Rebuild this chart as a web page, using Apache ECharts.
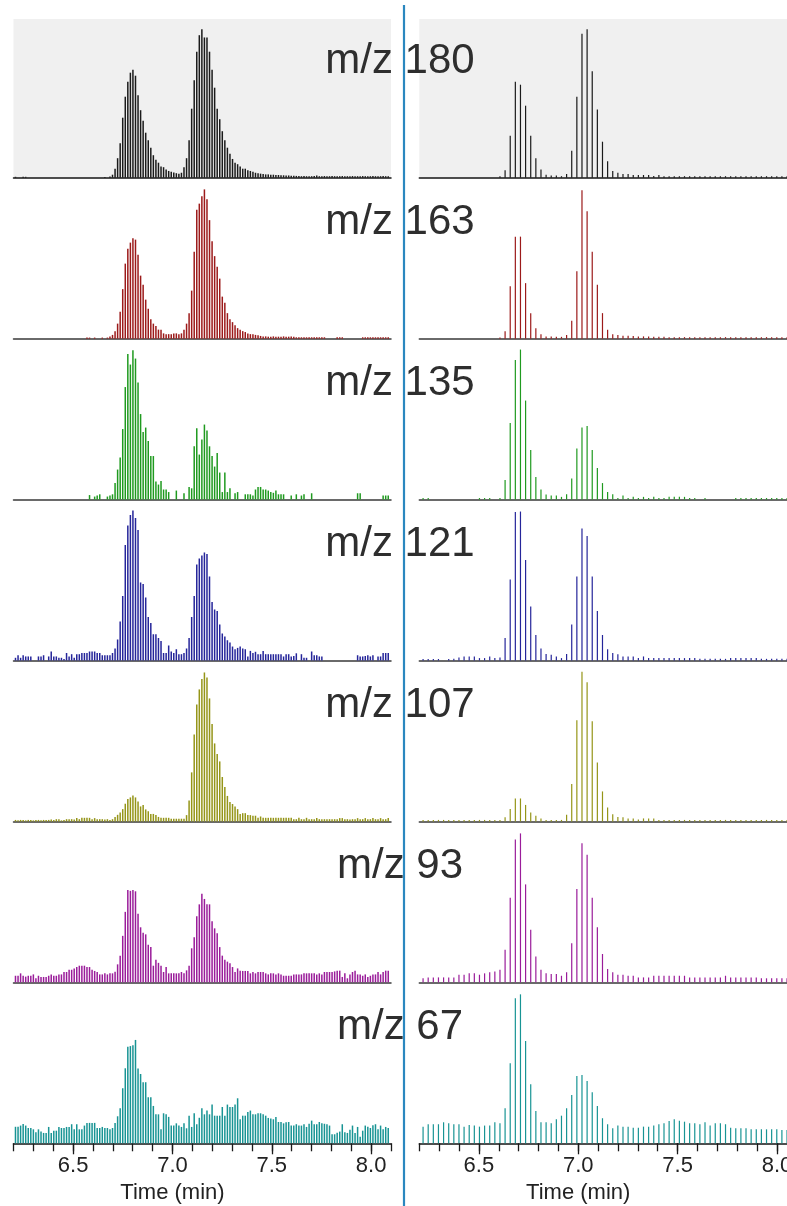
<!DOCTYPE html>
<html>
<head>
<meta charset="utf-8">
<script src="https://cdn.jsdelivr.net/npm/echarts@6/dist/echarts.min.js"></script>
<style>
  html, body { margin: 0; padding: 0; background: #ffffff; }
  #chart { width: 787px; height: 1206px; }
</style>
</head>
<body>
<div id="chart"></div>
<script>
// Extracted ion chromatograms, two runs side by side (left: fast scan, right: slow scan)
const IONS = ['180', '163', '135', '121', '107', '93', '67'];
const TIME_TICKS = [6.5, 7.0, 7.5, 8.0];

// scan timing (min)
const LEFT_T0 = 6.210, LEFT_DT = 0.01285;
const RIGHT_T0 = 6.219, RIGHT_DT = 0.0258;

// relative intensities, left run
const left180 = [
  0.6, 0, 0, 0.6, 0.6, 0, 0, 0, 0, 0,
  0, 0, 0, 0, 0, 0, 0, 0, 0, 0,
  0, 0, 0, 0, 0, 0, 0, 0, 0, 0,
  0, 0, 0, 0, 0, 0.5, 0, 0.8, 2, 6,
  13, 23, 40, 54, 64, 70, 72, 68, 55, 45,
  38, 30, 25, 20, 15, 12, 10, 7.5, 7, 5.5,
  4.5, 4, 3.5, 3, 2.7, 3.3, 7, 13, 25, 46,
  65, 84, 95, 99, 93.5, 93.5, 84, 72, 60, 46,
  39, 31, 25, 20, 16, 12.5, 10, 9, 7.5, 6,
  6, 5, 4.5, 4, 3.3, 3, 2.7, 2.4, 2.2, 2.2,
  2, 2, 1.8, 1.8, 1.6, 1.6, 1.5, 1.5, 1.3, 1.3,
  1.2, 1.2, 1, 1.1, 1, 1, 1, 1.1, 1.5, 1,
  1, 1.1, 1, 1, 1.1, 1, 1, 1, 1.1, 1,
  1, 1, 1.1, 1, 1, 1, 1.1, 1, 1, 1,
  1.1, 1, 1, 1, 1.1, 1, 1
];
const left163 = [
  0, 0, 0, 0, 0, 0, 0, 0, 0, 0,
  0, 0, 0, 0, 0, 0, 0, 0, 0, 0,
  0, 0, 0, 0, 0, 0, 0, 0, 0.7, 0.7,
  0, 0.7, 0, 0, 0.7, 0, 0.7, 1.5, 2.5, 5,
  10, 18, 33, 50, 60, 64, 67, 66, 56, 42,
  36, 26, 20, 13, 10, 8.4, 6, 6, 3.5, 3,
  3, 3, 3.5, 3.5, 3, 3.5, 6, 10, 17, 32,
  58, 86, 90, 95, 99.5, 93, 79, 65, 55, 48,
  40, 28, 24, 17, 13, 11, 9, 7, 6, 5,
  4.4, 3.5, 3, 3, 2.5, 2.2, 1.8, 1.5, 1.5, 1.3,
  1.3, 1.5, 1.3, 1.3, 1.3, 1.5, 1.3, 1.3, 1.5, 1.3,
  0.9, 0.9, 0.9, 0.9, 0.9, 0.9, 0.9, 0.9, 0.9, 0.9,
  0.9, 0.9, 0, 0, 0, 0, 0.9, 0.9, 0.9, 0,
  0, 0, 0, 0, 0, 0, 0.9, 0.9, 0.9, 0.9,
  0.9, 0.9, 0.9, 0.9, 0.9, 0.9, 0.9
];
const left135 = [
  0, 0, 0, 0, 0, 0, 0, 0, 0, 0,
  0, 0, 0, 0, 0, 0, 0, 0, 0, 0,
  0, 0, 0, 0, 0, 0, 0, 0, 0, 3,
  0, 2, 2.7, 3.5, 0, 0, 2, 2.7, 3.5, 11,
  20, 28, 47, 75, 97, 90, 99.5, 94, 78, 57,
  45, 48, 39, 29, 29, 12, 10, 12.4, 6.7, 6.7,
  5, 0, 0, 6, 0, 0, 4.2, 0, 8.4, 7.5,
  35.5, 47.5, 30, 40, 50, 46, 35.5, 29, 22, 31,
  18, 5, 18, 5, 7.5, 0, 4.2, 5, 0, 0,
  3.5, 3.5, 3.5, 2.7, 6.7, 8.4, 8.4, 6.7, 6.7, 6,
  5, 4.5, 6, 3.5, 3.5, 3.5, 0, 0, 2.7, 0,
  3.5, 0, 2.7, 3.5, 0, 0, 4.2, 0, 0, 0,
  0, 0, 0, 0, 0, 0, 0, 0, 0, 0,
  0, 0, 0, 0, 4.2, 4.2, 0, 0, 0, 0,
  0, 0, 0, 0, 2.7, 2.7, 2.7
];
const left121 = [
  1.8, 3.5, 1.8, 3.5, 2.7, 2.7, 2.7, 0, 0, 2.7,
  2.7, 3.5, 0, 2.7, 6, 2.7, 2.7, 1.8, 1.8, 1,
  5, 2.7, 4.2, 1.8, 4.2, 4.2, 5, 5, 5, 6,
  6, 6, 5, 5, 3.5, 3.5, 3.5, 3.5, 5, 8,
  14, 26, 43, 77, 90, 97, 100, 95, 87, 52,
  51, 42, 29, 25, 17.5, 17.5, 15, 13, 5, 5,
  10, 6, 5, 7.5, 4.2, 4.2, 5, 8, 15, 29,
  43, 64, 68, 70, 72, 71, 56, 39, 34, 33,
  24, 18, 16, 13.5, 12, 9.3, 7.5, 8.4, 9.3, 8,
  7.5, 2.7, 6.4, 5, 5.8, 4.2, 4.2, 6.4, 4.2, 4.2,
  4.2, 4.2, 4.2, 4.2, 4.2, 2.7, 4.2, 4.2, 2.7, 3,
  4.8, 0, 4.2, 1.8, 1.8, 0, 6, 3.5, 3.5, 2.7,
  2.7, 0, 0, 0, 0, 0, 0, 0, 0, 0,
  0, 0, 0, 0, 3.5, 2.7, 2.7, 3, 3.5, 2.7,
  3.5, 0, 2.7, 2.7, 5, 5, 5
];
const left107 = [
  1, 0.7, 1, 1, 0.7, 1, 1, 0.7, 1, 1,
  0.7, 1, 1, 1, 1.2, 1, 1.5, 1.5, 0.7, 1,
  1.5, 1.5, 1.5, 1.2, 2.2, 1.5, 2.4, 2.4, 2.4, 2.4,
  1.5, 2.2, 1.5, 1.5, 1.5, 1.2, 1.5, 1, 1.5, 3,
  4.4, 6, 8.2, 11.8, 15, 16, 17.3, 16, 13.3, 10,
  11, 8, 6.7, 5, 5, 4.2, 3, 2.4, 2.4, 2.4,
  2.4, 1.8, 1.8, 1.8, 1.8, 1.8, 1.8, 4.2, 14, 32.7,
  58, 78, 88, 95, 99.3, 96, 82, 65, 52, 45,
  40, 29.6, 23, 17, 13, 11.6, 10, 8.2, 5, 5.5,
  5.5, 4.2, 4.2, 3.8, 3.8, 2.4, 3.3, 2.4, 2.4, 2.4,
  2.4, 2.4, 2.4, 2.4, 2.4, 2.4, 2.4, 2.4, 2.4, 1.5,
  1.5, 2.4, 1.5, 1.5, 2.4, 1.5, 1.5, 1.5, 2.2, 1.5,
  1.5, 1.5, 1.5, 1.5, 1.5, 1.5, 1.5, 2.2, 2.2, 1.5,
  1.5, 1.2, 1.5, 1.5, 2.2, 1.5, 1.5, 2.2, 1.5, 1.5,
  2.2, 1.5, 1.5, 2.2, 1.5, 1.5, 2.2
];
const left93 = [
  4.4, 4.4, 6, 4.4, 3.8, 4.4, 4.4, 5.3, 2.7, 4.4,
  3.6, 3.6, 3.6, 4.4, 5.3, 4.4, 4.4, 5.3, 5.3, 6.9,
  6.9, 8.4, 8.4, 9.3, 10.2, 11.1, 11.1, 11.1, 10.2, 10.2,
  8.4, 7.6, 6.9, 5.3, 5.3, 6, 5.3, 6, 6, 7,
  12, 17.8, 31, 47, 61.5, 61, 61.5, 60.7, 45.8, 36.7,
  33, 32, 25, 23.5, 11.1, 15, 13, 11.1, 6.9, 10.2,
  6, 6, 6, 6, 6, 6.9, 6, 8, 11.1, 22.7,
  30, 44, 52, 59, 55.6, 52, 52, 40.7, 36, 32.7,
  23.5, 17.8, 15, 13.8, 12.7, 10.2, 6.9, 9.3, 7.8, 7.6,
  7.6, 7.6, 6, 6.9, 6, 6.9, 6.9, 6.9, 6, 5.3,
  6, 6, 5.3, 6, 5.3, 4.4, 4.4, 4.4, 4.4, 5.3,
  5.3, 5.3, 5.3, 6, 6, 6, 6, 6, 5.3, 6,
  5.3, 6.9, 6.9, 6.9, 6.9, 7.3, 7.8, 7.8, 3.6, 6,
  2.7, 5.3, 6.9, 7.8, 5.3, 5.3, 4.4, 5.3, 3.6, 4.4,
  5.3, 5.3, 6.9, 5.3, 6.9, 7.8, 7.8
];
const left67 = [
  11, 11, 11.8, 12.9, 11.8, 10.2, 10.2, 9.3, 7.3, 9.3,
  7.8, 6.9, 6.9, 10.9, 6.9, 8.4, 8.4, 10.9, 10.2, 10.2,
  10.9, 10.9, 12.7, 9.3, 12.7, 9.3, 9.3, 11.8, 13.6, 13.6,
  13.6, 13.6, 10.2, 10.2, 10.9, 10.2, 10.2, 9.3, 10.2, 13.6,
  18, 23.3, 36.7, 50, 64.4, 64.8, 65.3, 68.9, 49.8, 46.2,
  40.7, 40.7, 30.7, 30.7, 24.9, 19.3, 19.3, 9.3, 20, 19.3,
  17.6, 11.8, 11.8, 13.3, 11.8, 10.9, 13.3, 10, 18.4, 10.9,
  20, 12.7, 17, 23.3, 19.3, 21.8, 19.3, 25.8, 18.4, 18.4,
  18.4, 24.2, 18.4, 25.8, 24.2, 24.2, 25.8, 30, 16, 18.4,
  18.4, 20.9, 21.8, 19.3, 19.3, 20, 20, 19.3, 18.4, 16.9,
  16.5, 16, 17.6, 14.2, 14.2, 13.3, 14, 14.2, 11.8, 11.8,
  12.7, 11.8, 11.8, 12.7, 10.9, 13, 15.1, 12.7, 12.7, 14.2,
  13.3, 13, 12.7, 11.8, 6, 6, 7, 7.8, 12.7, 7.3,
  6.9, 9, 11.8, 6.9, 10.9, 4.4, 8.4, 11.8, 11, 10.2,
  12, 12.7, 9.3, 11.8, 9.3, 10.9, 10.2
];

// relative intensities, right run
const right180 = [
  0, 0, 0, 0, 0, 0, 0, 0, 0, 0,
  0, 0, 0, 0, 0, 1, 5, 28, 64, 62,
  48, 28, 13, 5.5, 2, 1.5, 1.5, 1, 2.5, 18,
  54, 96, 99, 71, 45.5, 24, 11, 4.5, 3.3, 2.4,
  2.4, 1.8, 1.8, 1.8, 1.8, 1.1, 1.8, 1, 1, 1,
  1, 1, 1, 1, 1, 1, 1, 1, 1, 1,
  1, 1, 1, 1, 1, 1, 1, 1, 1, 1,
  1, 1, 1
];
const right163 = [
  0, 0, 0, 0, 0, 0, 0, 0, 0, 0,
  0, 0, 0, 0, 0, 0.8, 5, 35, 68, 68,
  37, 17, 7, 3, 1.5, 1.5, 1.2, 1.2, 2.5, 12,
  45, 99, 85, 58, 36, 17, 6, 3, 2.4, 2,
  2, 1.8, 1.5, 1.5, 1.5, 1.2, 1.2, 1.2, 1, 1,
  1, 1, 1, 1, 1, 1, 1, 1, 1, 1,
  1, 1, 1, 1, 1, 1, 1, 1, 1, 1,
  1, 1, 1
];
const right135 = [
  1, 1, 0, 0, 0, 0, 0, 0, 0, 0,
  0, 1, 1, 1, 0, 1, 13, 51, 93, 100,
  66, 33, 15, 6.7, 3.3, 2.7, 2.7, 1.8, 3.5, 14,
  34, 48, 49, 33, 21, 11, 5, 3.5, 1, 2.7,
  1, 1.8, 1, 1.8, 1, 1.8, 1, 1, 1.8, 1.8,
  1.8, 1.8, 1, 1, 0, 1, 0, 0, 0, 0,
  0, 1, 1, 1, 1, 1, 1, 1, 1, 1,
  1, 1, 1
];
const right121 = [
  1, 1, 1, 1, 0, 1, 1.2, 2, 2.7, 2.7,
  2.7, 1.6, 1.6, 2.7, 1.6, 2, 15, 54, 99, 99.3,
  67, 36, 17, 8, 4.4, 3.8, 2.7, 1.6, 4.4, 24,
  56, 88, 83, 56, 33, 17, 7.5, 5, 4.2, 2.7,
  2.7, 2.7, 1.6, 2.7, 1.6, 1.6, 1.6, 1.6, 1.6, 1.6,
  1.6, 1.6, 1.6, 1.6, 1.1, 1.1, 1.1, 1.1, 1.1, 1.1,
  1.6, 1.6, 1.6, 1.6, 1.6, 1.6, 1.1, 1.1, 1.1, 1.1,
  1.1, 1.1, 1.1
];
const right107 = [
  1, 1, 1, 1, 1, 1, 1, 1, 1, 1,
  1, 1, 1, 1, 1, 1, 2.7, 8.2, 15.3, 15.3,
  11, 6, 3.8, 2, 1, 1, 1, 1, 4.4, 25,
  67.5, 99.8, 92.7, 66.7, 39.3, 20, 9.3, 4.7, 2.9, 2.7,
  2, 2, 1.3, 2, 2, 2, 1, 1, 1, 1,
  1, 1, 1, 1, 1, 1, 1, 1, 1, 1,
  1, 1, 1, 1, 1, 1, 1, 1, 1, 1,
  1, 1, 1
];
const right93 = [
  2.7, 3.3, 3.3, 3.3, 3.3, 3.3, 3.3, 5.1, 5.1, 6,
  6, 5.1, 6, 6.7, 7.3, 8.4, 21.8, 56.4, 95.3, 99.3,
  65.3, 35, 17.3, 8.4, 6, 5.6, 5.6, 4.4, 6.7, 26,
  62.2, 92.7, 85.1, 56.4, 36.7, 18.9, 8.9, 6.7, 5.1, 5.1,
  4.4, 4.4, 3.3, 3.3, 3.3, 4.4, 4.4, 4.4, 4.4, 4.4,
  4.4, 4.4, 3.3, 3.3, 3.3, 3.3, 3.3, 3.3, 3.3, 4.4,
  3.3, 3.3, 3.3, 3.3, 3.3, 3.3, 2.7, 2.7, 2.7, 2.7,
  2.7, 2.7, 2.7
];
const right67 = [
  11.1, 12.7, 12.7, 12.7, 14, 13.3, 12.7, 12.7, 11.1, 12.2,
  11.8, 11.1, 11.8, 11.8, 14, 13.3, 23.3, 53.3, 96.7, 99.3,
  68.2, 39.3, 21.6, 14, 14, 13.3, 16, 18.4, 23.3, 32.2,
  44.9, 45.6, 41.6, 34, 24.9, 16.7, 12.7, 10, 11.8, 11.1,
  11.1, 10.4, 10.4, 11.1, 11.1, 11.8, 12.7, 13.3, 14.9, 16,
  15.1, 14.4, 13.3, 13.3, 12.7, 14, 11.8, 13.3, 13.3, 12.7,
  10.4, 10, 10, 10, 9.3, 9.3, 9.3, 9.3, 9.3, 9.3,
  8.9, 8.9, 8.9
];

const LEFT_DATA = [left180, left163, left135, left121, left107, left93, left67];
const RIGHT_DATA = [right180, right163, right135, right121, right107, right93, right67];

// styling
const ION_COLORS = ['#1a1a1a', '#9c1a1a', '#1f9a1f', '#25259a', '#959518', '#9a1c9a', '#189494'];
const FONT = '"Liberation Sans", Arial, Helvetica, sans-serif';
const ROW_BASE0 = 177.7, ROW_STEP = 160.93, PANEL_H = 158.7;
const LEFT_X = 13.5, RIGHT_X = 419.3, PANEL_W = 377.5;
const Y_MAX = 105.8;
const X_MIN = 6.2, X_MAX = 8.1;

const chart = echarts.init(document.getElementById('chart'), null, { renderer: 'canvas' });

const grids = [], xAxes = [], yAxes = [], series = [];
const lastRow = IONS.length - 1;

function toPoints(arr, t0, dt) {
  return arr.map((v, i) => [Math.round((t0 + i * dt) * 10000) / 10000, v]);
}

function isMajor(v) {
  return TIME_TICKS.some(m => Math.abs(m - v) < 1e-6);
}

IONS.forEach((ion, r) => {
  const base = ROW_BASE0 + r * ROW_STEP;
  const bottom = r === lastRow;
  [LEFT_X, RIGHT_X].forEach((gx, side) => {
    const gi = grids.length;
    grids.push({
      left: gx, top: base - PANEL_H, width: PANEL_W, height: PANEL_H,
      show: r === 0, backgroundColor: '#f0f0f0', borderWidth: 0,
      containLabel: false, outerBoundsMode: 'none'
    });
    xAxes.push({
      gridIndex: gi, type: 'value', min: X_MIN, max: X_MAX, interval: 0.1,
      axisLine: { show: true, onZero: false, lineStyle: { color: bottom || r === 0 ? '#151515' : '#3a3a3a', width: 1.5 } },
      axisTick: { show: bottom, length: 8, lineStyle: { color: '#1a1a1a', width: 1.3 } },
      axisLabel: {
        show: bottom, margin: 12, fontSize: 22, fontFamily: FONT, color: '#222',
        hideOverlap: false,
        formatter: v => (isMajor(v) ? v.toFixed(1) : '')
      },
      splitLine: { show: false }
    });
    yAxes.push({ gridIndex: gi, type: 'value', min: 0, max: Y_MAX, show: false });
    const data = side === 0 ? LEFT_DATA[r] : RIGHT_DATA[r];
    series.push({
      type: 'bar',
      name: 'm/z ' + ion + (side === 0 ? ' A' : ' B'),
      xAxisIndex: gi, yAxisIndex: gi,
      data: side === 0 ? toPoints(data, LEFT_T0, LEFT_DT) : toPoints(data, RIGHT_T0, RIGHT_DT),
      barWidth: side === 0 ? 1.5 : 1.2,
      itemStyle: { color: ION_COLORS[r] },
      clip: true,
      silent: true
    });
  });
});

// longer ticks at the labelled times on the bottom row
[2 * lastRow, 2 * lastRow + 1].forEach(gi => {
  xAxes.push({
    gridIndex: gi, type: 'value', min: X_MIN, max: X_MAX, position: 'bottom',
    axisLine: { show: false },
    axisTick: { show: true, length: 11, customValues: TIME_TICKS, lineStyle: { color: '#1a1a1a', width: 1.3 } },
    axisLabel: { show: false },
    splitLine: { show: false }
  });
});

chart.setOption({
  animation: false,
  backgroundColor: '#ffffff',
  grid: grids,
  xAxis: xAxes,
  yAxis: yAxes,
  series: series
});

// ion labels, divider and axis names
const graphics = [];
graphics.push({
  type: 'line', z: 50,
  shape: { x1: 404, y1: 5, x2: 404, y2: 1206 },
  style: { stroke: '#2a87bf', lineWidth: 2.2 }
});
IONS.forEach((ion, r) => {
  const base = ROW_BASE0 + r * ROW_STEP;
  graphics.push({
    type: 'text', z: 40, x: 400, y: base - 116,
    style: {
      text: 'm/z ' + ion, fill: '#2e2e2e', font: '42px ' + FONT,
      textAlign: 'center', textVerticalAlign: 'middle'
    }
  });
});
[2 * lastRow, 2 * lastRow + 1].forEach(gi => {
  const px = chart.convertToPixel({ xAxisIndex: gi }, 7.0);
  graphics.push({
    type: 'text', z: 40, x: px, y: 1193,
    style: {
      text: 'Time (min)', fill: '#222', font: '22px ' + FONT,
      textAlign: 'center', textVerticalAlign: 'middle'
    }
  });
});
chart.setOption({ graphic: graphics });
</script>
</body>
</html>
